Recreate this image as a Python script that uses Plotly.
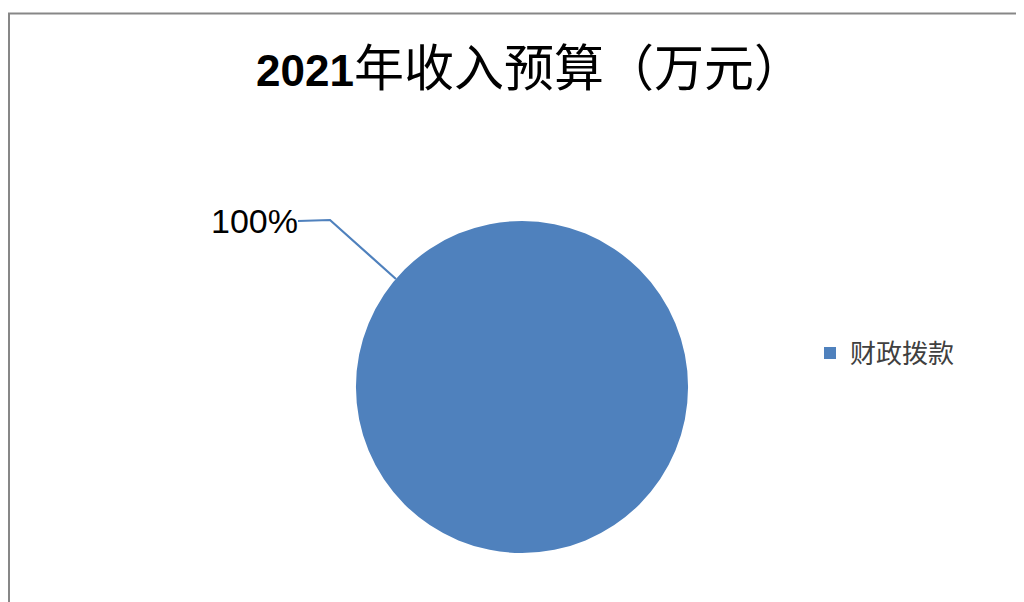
import math
import plotly.graph_objects as go

# ---- data ----
categories = ["财政拨款"]
values = [100]
title_year = "2021"
title_text = "年收入预算（万元）"

# page is 1024x602, the figure sits inside the 8px body margin
PAGE_W, PAGE_H = 1024, 602
OFF = 8
W, H = PAGE_W - OFF, PAGE_H - OFF
pie_color = "#4F81BD"

# pie placement (page pixels)
pie_left, pie_right, pie_top, pie_bottom = 356, 688, 221, 553
cx = (pie_left + pie_right) / 2
cy = (pie_top + pie_bottom) / 2
r = (pie_right - pie_left) / 2

def px(x):
    return (x - OFF) / W

def py(y):
    return 1 - (y - OFF) / H

fig = go.Figure()
fig.add_trace(go.Pie(
    labels=categories,
    values=values,
    marker=dict(colors=[pie_color], line=dict(width=0)),
    textinfo="none",
    hoverinfo="label+percent",
    sort=False,
    domain=dict(x=[px(pie_left), px(pie_right)], y=[py(pie_bottom), py(pie_top)]),
    showlegend=True,
))

# data label
total = sum(values)
pct_text = f"{values[0] / total * 100:.0f}%"
label_cx, label_cy = 254, 221
fig.add_annotation(
    x=px(label_cx), y=py(label_cy), xref="paper", yref="paper",
    text=pct_text, showarrow=False,
    font=dict(family="Liberation Sans", size=34, color="#000000"),
    xanchor="center", yanchor="middle",
)

# leader line from label to pie edge
ang = math.radians(139.4)
ex, ey = cx + r * math.cos(ang), cy - r * math.sin(ang)
knee = (330, 220)
start = (298, 221)
path = f"M {px(start[0])} {py(start[1])} L {px(knee[0])} {py(knee[1])} L {px(ex)} {py(ey)}"
fig.add_shape(type="path", xref="paper", yref="paper", path=path,
              line=dict(color=pie_color, width=2.2))

# chart border
fig.add_shape(type="rect", xref="paper", yref="paper",
              x0=px(9), y0=-0.05, x1=1.05, y1=py(13.5),
              line=dict(color="#878787", width=2), fillcolor="rgba(0,0,0,0)")

fig.update_layout(
    width=W, height=H,
    margin=dict(l=0, r=0, t=0, b=0),
    paper_bgcolor="white",
    plot_bgcolor="white",
    title=dict(
        text=f"<span style='font-family:Liberation Sans;font-size:44px'><b>{title_year}</b></span>{title_text}",
        x=(530 - OFF) / W, xanchor="center", y=py(68), yanchor="middle",
        font=dict(family="Noto Sans CJK SC", size=50, color="#000000"),
    ),
    legend=dict(
        x=px(810), y=py(353), xanchor="left", yanchor="middle",
        font=dict(family="Noto Sans CJK SC", size=26, color="#404040"),
        bgcolor="rgba(0,0,0,0)",
    ),
)

fig.write_html("out.html")
